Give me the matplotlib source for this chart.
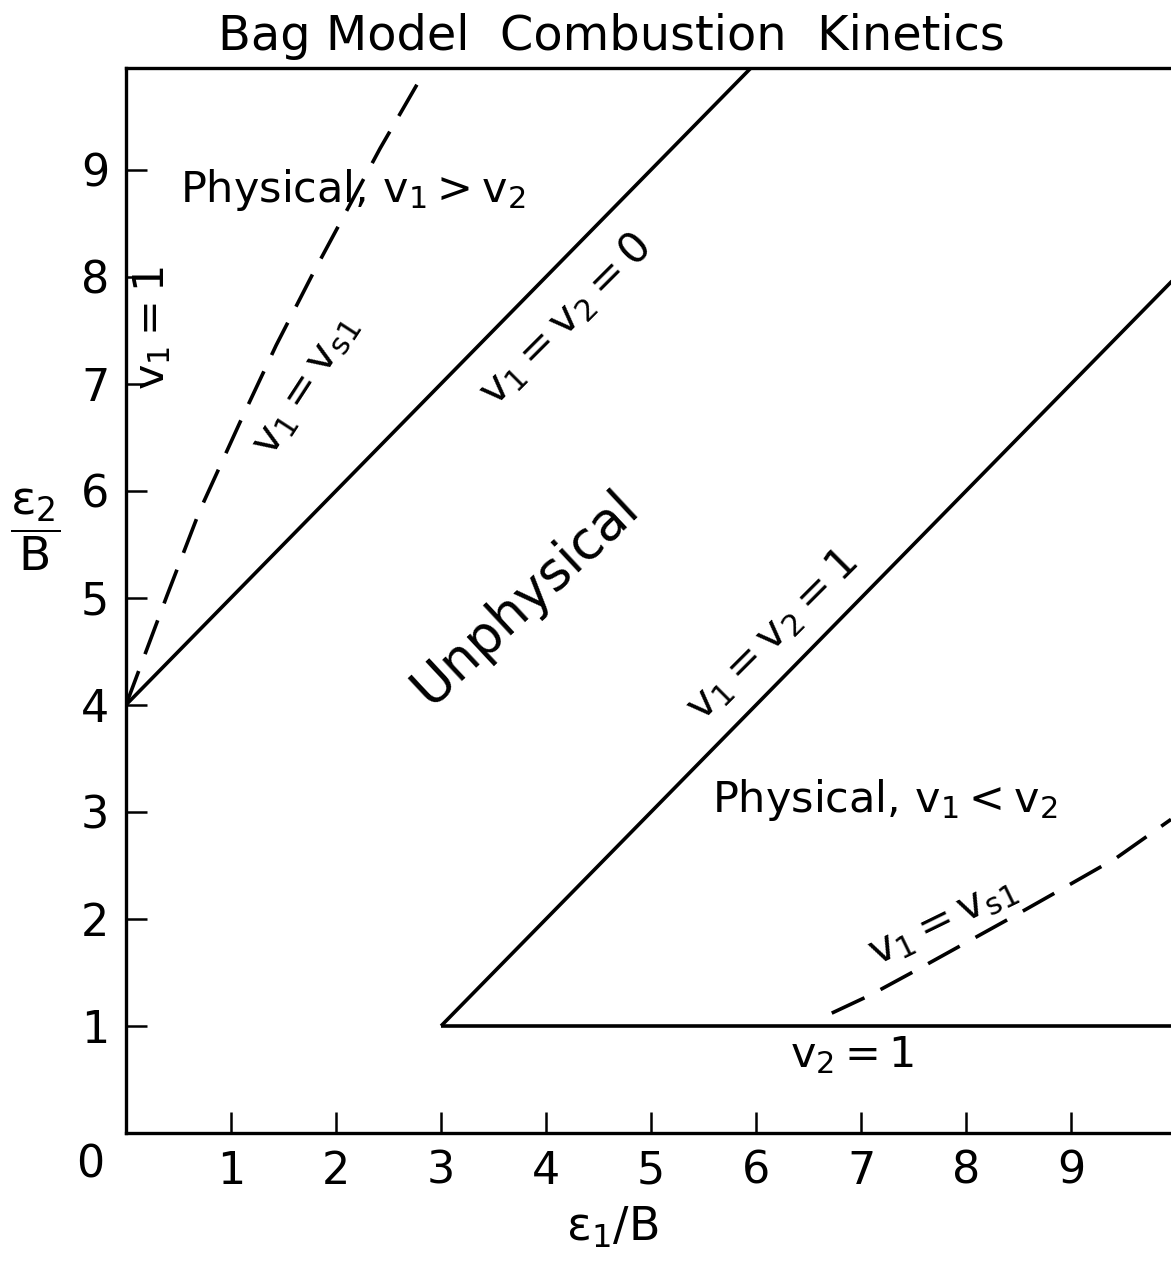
import matplotlib
matplotlib.use('Agg')
import matplotlib.pyplot as plt

plt.rcParams['font.family'] = ['DejaVu Sans']
plt.rcParams['mathtext.fontset'] = 'dejavusans'
plt.rcParams['mathtext.default'] = 'regular'

# boundary lines in the (eps1/B, eps2/B) plane
v0_x = [0.0, 6.1]           # v1 = v2 = 0
v0_y = [4.0, 10.1]
v1_x = [3.0, 10.0]          # v1 = v2 = 1
v1_y = [1.0, 8.0]
v2_x = [3.0, 10.0]          # v2 = 1
v2_y = [1.0, 1.0]

# v1 = vs1, upper branch
vs_up_x = [0.0, 0.39, 0.70, 1.09, 1.43, 1.78, 2.42, 2.95]
vs_up_y = [4.0, 5.02, 5.81, 6.65, 7.36, 8.03, 9.20, 10.1]
# v1 = vs1, lower branch
vs_lo_x = [6.72, 7.09, 7.56, 8.48, 8.93, 9.43, 9.95]
vs_lo_y = [1.12, 1.29, 1.54, 2.04, 2.29, 2.57, 2.93]

xticks = [1, 2, 3, 4, 5, 6, 7, 8, 9]
yticks = [1, 2, 3, 4, 5, 6, 7, 8, 9]

W, H = 1171, 1268
fig = plt.figure(figsize=(W / 100, H / 100), dpi=100)
fig.patch.set_facecolor('white')
ax = fig.add_axes([126 / W, 1 - 1133 / H, 1 - 126 / W, (1133 - 68) / H])
ax.set_xlim(0, 9.95)
ax.set_ylim(0, 9.95)

LW = 2.6
ax.plot(v0_x, v0_y, color='black', lw=LW, solid_capstyle='butt')
ax.plot(v1_x, v1_y, color='black', lw=LW, solid_capstyle='butt')
ax.plot(v2_x, v2_y, color='black', lw=LW, solid_capstyle='butt')
ax.plot(vs_up_x, vs_up_y, color='black', lw=LW, dashes=(10, 5))
ax.plot(vs_lo_x, vs_lo_y, color='black', lw=LW, dashes=(10, 5))

for s in ['left', 'bottom', 'top']:
    ax.spines[s].set_linewidth(2.4)
ax.spines['right'].set_visible(False)

ax.set_xticks(xticks)
ax.set_yticks(yticks)
ax.tick_params(direction='in', length=15, width=1.8, labelsize=32, pad=12,
               top=False, right=False)

fs = 31
ax.text(-0.34, -0.30, '0', fontsize=32, ha='center', va='center', clip_on=False)

ax.text(0.51, 8.81, r'Physical, $v_1 > v_2$', fontsize=fs, ha='left', va='center')
ax.text(5.58, 3.11, r'Physical, $v_1 < v_2$', fontsize=fs, ha='left', va='center')
ax.text(3.80, 5.0, 'Unphysical', fontsize=38, rotation=43, ha='center',
        va='center', rotation_mode='anchor')
ax.text(4.18, 7.6, r'$v_1 = v_2 = 0$', fontsize=fs, rotation=45, ha='center',
        va='center', rotation_mode='anchor')
ax.text(6.15, 4.65, r'$v_1 = v_2 = 1$', fontsize=fs, rotation=45, ha='center',
        va='center', rotation_mode='anchor')
ax.text(1.70, 6.99, r'$v_1 = v_{s1}$', fontsize=fs, rotation=57, ha='center',
        va='center', rotation_mode='anchor')
ax.text(7.77, 1.99, r'$v_1 = v_{s1}$', fontsize=fs, rotation=26, ha='center',
        va='center', rotation_mode='anchor')
ax.text(6.91, 0.73, r'$v_2 = 1$', fontsize=fs, ha='center', va='center')
ax.text(0.25, 7.52, r'$v_1 = 1$', fontsize=fs, rotation=90, ha='center', va='center')

fig.text(612 / W, 1 - 1228 / H, r'$\varepsilon_1/B$', fontsize=33, ha='center', va='center')
fig.text(35 / W, 1 - 530 / H, r'$\dfrac{\varepsilon_2}{B}$', fontsize=34, ha='center', va='center')
fig.text(611 / W, 1 - 36 / H, 'Bag Model  Combustion  Kinetics', fontsize=34.5,
         ha='center', va='center')

fig.savefig('out.png', dpi=100, facecolor='white')
